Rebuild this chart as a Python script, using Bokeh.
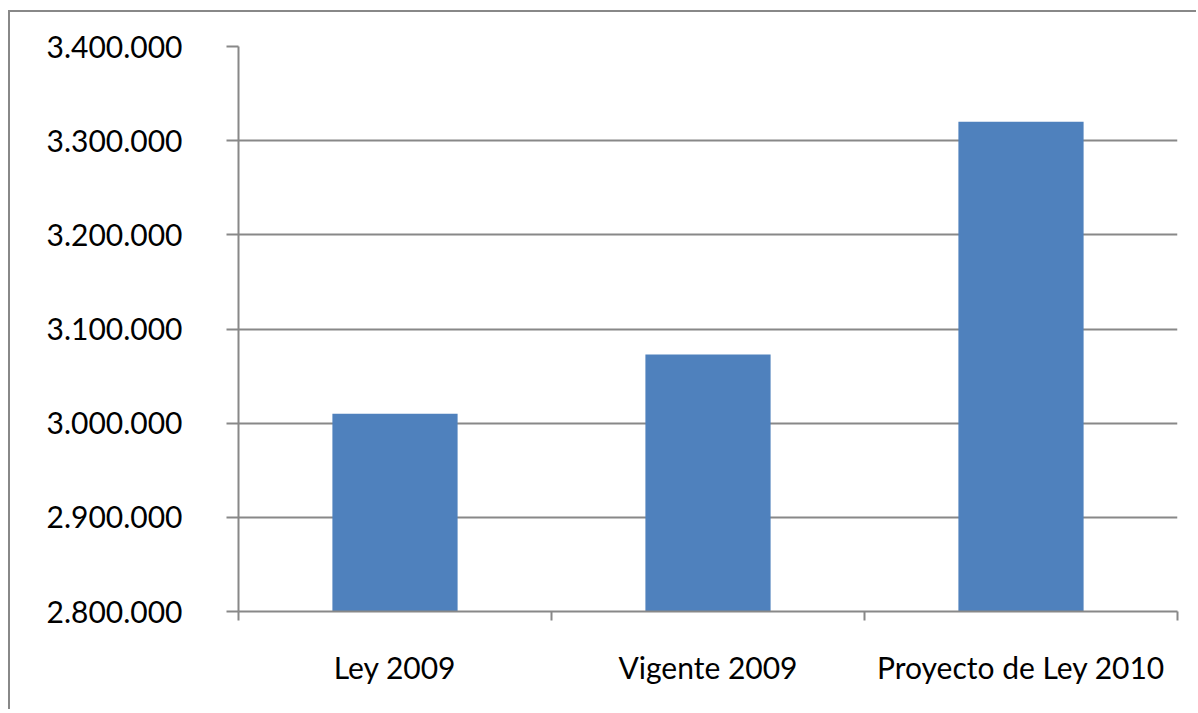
from bokeh.plotting import figure
from bokeh.models import FixedTicker, Range1d, ColumnDataSource
from bokeh.embed import file_html
from bokeh.resources import INLINE

categories = ["Ley 2009", "Vigente 2009", "Proyecto de Ley 2010"]
values = [3010000, 3073000, 3320000]
y_ticks = [2800000, 2900000, 3000000, 3100000, 3200000, 3300000, 3400000]
y_tick_labels = ["2.800.000", "2.900.000", "3.000.000", "3.100.000", "3.200.000", "3.300.000", "3.400.000"]

GRAY = "#888888"
BLUE = "#4F81BD"
FONT = "Lato"

xs = [i + 0.5 for i in range(len(categories))]
src = ColumnDataSource(dict(x=xs, top=values, cat=categories))

p = figure(width=1188, height=699, output_backend="svg", toolbar_location=None,
           x_range=Range1d(0, len(categories)), y_range=Range1d(y_ticks[0], y_ticks[-1]),
           min_border_left=228, min_border_right=21, min_border_top=34, min_border_bottom=100)
p.styles = {"border-left": f"2px solid {GRAY}", "border-top": f"2px solid {GRAY}",
            "margin-top": "10px", "margin-left": "8px"}
p.outline_line_color = None
p.background_fill_color = "white"
p.border_fill_color = "white"

p.vbar(x="x", top="top", bottom=y_ticks[0], width=0.4, source=src, fill_color=BLUE, line_color=None)

# y axis
ya = p.yaxis[0]
ya.ticker = FixedTicker(ticks=y_ticks)
ya.major_label_overrides = {t: l for t, l in zip(y_ticks, y_tick_labels)}
ya.axis_line_color = GRAY
ya.axis_line_width = 2
ya.major_tick_line_color = GRAY
ya.major_tick_line_width = 2
ya.major_tick_out = 12
ya.major_tick_in = 0
ya.minor_tick_line_color = None
ya.major_label_standoff = 44
ya.major_label_text_font = FONT
ya.major_label_text_font_size = "30px"
ya.major_label_text_color = "black"

# x axis
xa = p.xaxis[0]
xa.ticker = FixedTicker(ticks=xs, minor_ticks=list(range(len(categories) + 1)))
xa.major_label_overrides = {x: c for x, c in zip(xs, categories)}
xa.axis_line_color = GRAY
xa.axis_line_width = 2
xa.major_tick_line_color = None
xa.minor_tick_line_color = GRAY
xa.minor_tick_line_width = 2
xa.minor_tick_out = 9
xa.minor_tick_in = 0
xa.major_label_standoff = 28
xa.major_label_text_font = FONT
xa.major_label_text_font_size = "30px"
xa.major_label_text_color = "black"

p.xgrid.grid_line_color = None
p.ygrid.ticker = FixedTicker(ticks=y_ticks)
p.ygrid.grid_line_color = GRAY
p.ygrid.grid_line_width = 2

open("out.html", "w").write(file_html(p, INLINE))
